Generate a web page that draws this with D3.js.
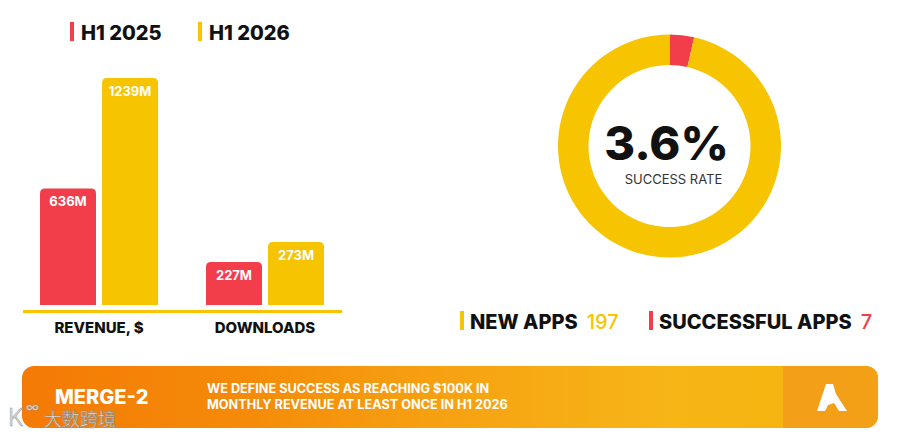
<!DOCTYPE html>
<html>
<head>
<meta charset="utf-8">
<script src="https://cdn.jsdelivr.net/npm/d3@7"></script>
<style>
  body { margin: 0; background: #fff; }
  svg { display: block; font-family: Inter, "Noto Sans", sans-serif; }
</style>
</head>
<body>
<svg width="900" height="436"></svg>
<script>
// data
var groups = ["REVENUE, $", "DOWNLOADS"];
var seriesNames = ["H1 2025", "H1 2026"];
var revenue = [636, 1239];
var downloads = [227, 273];
var newApps = 197;
var successfulApps = 7;
var successRate = "3.6%";
var noteLines = ["WE DEFINE SUCCESS AS REACHING $100K IN", "MONTHLY REVENUE AT LEAST ONCE IN H1 2026"];

var RED = "#f23d4a", YELLOW = "#f6c400";
var colors = [RED, YELLOW];

var svg = d3.select("svg");

// legend top
seriesNames.forEach(function(s, i) {
  var x = 70 + i * 128;
  svg.append("rect").attr("x", x).attr("y", 22).attr("width", 4).attr("height", 19).attr("fill", colors[i]);
  svg.append("text").attr("x", x + 11).attr("y", 40).text(s)
    .style("font-size", "20px").style("font-weight", 800).style("fill", "#111");
});

// bar chart
var base = 305;
var x0 = d3.scaleBand().domain(groups).range([40, 324]).paddingInner(0.289).paddingOuter(0);
var x1 = d3.scaleBand().domain(seriesNames).range([0, x0.bandwidth()]).paddingInner(0.097);
// each group has its own value scale in the picture
var yScales = [
  d3.scaleLinear().domain([0, 1239]).range([base, 78]),
  d3.scaleLinear().domain([128, 273]).range([base, 242])
];
var groupValues = [revenue, downloads];

function topRounded(x, y, w, h, r) {
  return "M" + x + "," + (y + h) + "V" + (y + r) + "Q" + x + "," + y + " " + (x + r) + "," + y +
    "H" + (x + w - r) + "Q" + (x + w) + "," + y + " " + (x + w) + "," + (y + r) + "V" + (y + h) + "Z";
}

groups.forEach(function(g, gi) {
  var gEl = svg.append("g").attr("transform", "translate(" + x0(g) + ",0)");
  var y = yScales[gi];
  gEl.selectAll("path").data(groupValues[gi]).enter().append("path")
    .attr("d", function(d, i) { return topRounded(x1(seriesNames[i]), y(d), x1.bandwidth(), base - y(d), 5); })
    .attr("fill", function(d, i) { return colors[i]; });
  gEl.selectAll("text.val").data(groupValues[gi]).enter().append("text")
    .attr("class", "val")
    .attr("x", function(d, i) { return x1(seriesNames[i]) + x1.bandwidth() / 2; })
    .attr("y", function(d) { return y(d) + 18; })
    .attr("text-anchor", "middle")
    .style("font-size", "13px").style("font-weight", 700).style("fill", "#fff")
    .text(function(d) { return d + "M"; });
  svg.append("text").attr("x", x0(g) + x0.bandwidth() / 2).attr("y", 333)
    .attr("text-anchor", "middle").text(g)
    .style("font-size", "15px").style("font-weight", 800).style("fill", "#111");
});

svg.append("line").attr("x1", 23).attr("x2", 342).attr("y1", 311.5).attr("y2", 311.5)
  .style("stroke", YELLOW).style("stroke-width", "3px");

// donut
var cx = 669.5, cy = 146;
var pie = d3.pie().sort(null).value(function(d) { return d; });
var arc = d3.arc().innerRadius(81).outerRadius(111.5);
var donut = svg.append("g").attr("transform", "translate(" + cx + "," + cy + ")");
donut.selectAll("path").data(pie([successfulApps, newApps - successfulApps])).enter().append("path")
  .attr("d", arc)
  .attr("fill", function(d, i) { return i === 0 ? RED : YELLOW; });
donut.append("text").attr("x", -3).attr("y", 14).attr("text-anchor", "middle").text(successRate)
  .style("font-size", "47px").style("font-weight", 800).style("fill", "#111");
donut.append("text").attr("x", 4).attr("y", 38).attr("text-anchor", "middle").text("SUCCESS RATE")
  .style("font-size", "13px").style("font-weight", 400).style("fill", "#333");

// bottom legend
var legend2 = [
  { label: "NEW APPS", value: newApps, color: YELLOW, x: 460 },
  { label: "SUCCESSFUL APPS", value: successfulApps, color: RED, x: 649 }
];
legend2.forEach(function(l) {
  svg.append("rect").attr("x", l.x).attr("y", 311).attr("width", 4).attr("height", 19).attr("fill", l.color);
  var t = svg.append("text").attr("x", l.x + 10).attr("y", 329)
    .style("font-size", "20px").style("font-weight", 800).style("fill", "#111");
  t.append("tspan").text(l.label);
  t.append("tspan").attr("dx", 9).style("font-weight", 500).style("fill", l.color).text(l.value);
});

// banner
var defs = svg.append("defs");
var grad = defs.append("linearGradient").attr("id", "bg").attr("x1", "0%").attr("x2", "100%");
[["0%", "#f47a06"], ["25%", "#f58a08"], ["50%", "#f6a212"], ["75%", "#f7b517"], ["100%", "#f6b40a"]].forEach(function(s) {
  grad.append("stop").attr("offset", s[0]).attr("stop-color", s[1]);
});
defs.append("clipPath").attr("id", "bclip").append("rect")
  .attr("x", 22).attr("y", 366).attr("width", 856).attr("height", 62).attr("rx", 12);
var banner = svg.append("g").attr("clip-path", "url(#bclip)");
banner.append("rect").attr("x", 22).attr("y", 366).attr("width", 856).attr("height", 62).attr("fill", "url(#bg)");
banner.append("rect").attr("x", 783).attr("y", 366).attr("width", 95).attr("height", 62).attr("fill", "#f29a1c").attr("opacity", 0.75);

svg.append("text").attr("x", 55).attr("y", 404).text("MERGE-2")
  .style("font-size", "20px").style("font-weight", 800).style("fill", "#fff");
svg.selectAll("text.note").data(noteLines).enter().append("text")
  .attr("class", "note").attr("x", 207).attr("y", function(d, i) { return 393 + i * 16; })
  .text(function(d) { return d; })
  .style("font-size", "12.7px").style("font-weight", 700).style("fill", "#fff");

svg.append("path")
  .attr("d", "M817,411 L826,384 L833,384 L836,394 L847,411 L839,411 L834,403 L828,405 L825,411 Z")
  .attr("fill", "#fff");

// watermark
svg.append("text").attr("x", 8).attr("y", 426).text("K")
  .style("font-size", "24px").style("font-weight", 300).style("fill", "#ddd").style("stroke", "#999").style("stroke-width", "0.5px");
svg.append("text").attr("x", 26).attr("y", 412).text("∞")
  .style("font-size", "14px").style("fill", "#eee").style("stroke", "#999").style("stroke-width", "0.5px");
svg.append("text").attr("x", 44).attr("y", 426).text("大数跨境")
  .style("font-family", "'Noto Sans CJK SC', sans-serif").style("font-size", "18px")
  .style("fill", "#e8e8e8").style("stroke", "#888").style("stroke-width", "0.6px").style("opacity", 0.9);
</script>
</body>
</html>
